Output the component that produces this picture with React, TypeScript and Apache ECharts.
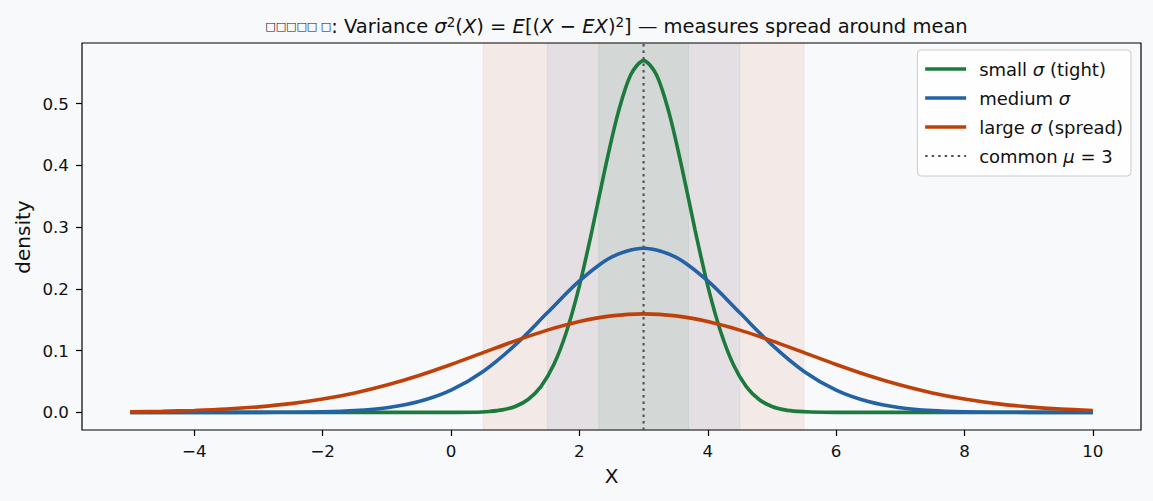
import React, { useEffect, useRef } from "react";
import * as echarts from "echarts";

const MU = 3;
const SIGMAS = [0.7, 1.5, 2.5];
const SERIES_NAMES = ["small σ (tight)", "medium σ", "large σ (spread)"];
const LEGEND_LABELS = ["small {i|σ} (tight)", "medium {i|σ}", "large {i|σ} (spread)", "common {i|μ} = 3"];
const COLORS = ["#1b7a3c", "#2462a6", "#c0400a"];
const MU_NAME = "common μ = 3";

const xSmall = [-5, -2, 0, 0.4, 0.6, 0.8, 1.0, 1.2, 1.4, 1.6, 1.8, 2.0, 2.2, 2.4, 2.6, 2.8, 3.0, 3.2, 3.4, 3.6, 3.8, 4.0, 4.2, 4.4, 4.6, 4.8, 5.0, 5.2, 5.4, 5.6, 6, 8, 10];
const ySmall = [0, 0, 0.0001, 0.0003, 0.0016, 0.0041, 0.0096, 0.0209, 0.0418, 0.0771, 0.131, 0.205, 0.2965, 0.395, 0.484, 0.547, 0.5699, 0.547, 0.484, 0.395, 0.2965, 0.205, 0.131, 0.0771, 0.0418, 0.0209, 0.0096, 0.0041, 0.0016, 0.0006, 0.0001, 0, 0];

const xWide = [-5, -4.5, -4, -3.5, -3, -2.5, -2, -1.5, -1, -0.5, 0, 0.5, 1, 1.5, 2, 2.5, 3, 3.5, 4, 4.5, 5, 5.5, 6, 6.5, 7, 7.5, 8, 8.5, 9, 9.5, 10];
const yMedium = [0, 0, 0, 0, 0.0001, 0.0003, 0.001, 0.003, 0.0076, 0.0175, 0.036, 0.0663, 0.1093, 0.1613, 0.213, 0.2516, 0.266, 0.2516, 0.213, 0.1613, 0.1093, 0.0663, 0.036, 0.0175, 0.0076, 0.003, 0.001, 0.0003, 0.0001, 0, 0];
const yLarge = [0.001, 0.0018, 0.0032, 0.0054, 0.009, 0.0142, 0.0216, 0.0316, 0.0444, 0.0599, 0.0777, 0.0968, 0.1159, 0.1333, 0.1473, 0.1564, 0.1596, 0.1564, 0.1473, 0.1333, 0.1159, 0.0968, 0.0777, 0.0599, 0.0444, 0.0316, 0.0216, 0.0142, 0.009, 0.0054, 0.0032];

const X_TICKS = [-4, -2, 0, 2, 4, 6, 8, 10];
const Y_TICKS = [0, 0.1, 0.2, 0.3, 0.4, 0.5];
const X_MIN = -5.75, X_MAX = 10.75;
const Y_MIN = -0.0285, Y_MAX = 0.5984;

const FONT = "DejaVu Sans";

export default function App() {
  const ref = useRef<HTMLDivElement>(null);
  useEffect(() => {
    document.body.style.margin = "0";
    document.body.style.background = "#f8f9fb";
    const chart = echarts.init(ref.current!, null, { renderer: "svg" });
    const pairs = (xs: number[], ys: number[]) => xs.map((x, i) => [x, ys[i]]);
    const curves = [pairs(xSmall, ySmall), pairs(xWide, yMedium), pairs(xWide, yLarge)];
    const bandOrder = [2, 1, 0];
    const allNames = [...SERIES_NAMES, MU_NAME];
    chart.setOption({
      animation: false,
      backgroundColor: "#f8f9fb",
      title: {
        text: "{t|□□□□□ □}: Variance {i|σ}{sup|2}({i|X}) = {i|E}[({i|X} − {i|EX}){sup|2}] — measures spread around mean",
        left: 611.5,
        textAlign: "center",
        top: 10,
        textStyle: {
          fontFamily: FONT,
          fontSize: 19.5,
          fontWeight: "normal",
          color: "#111",
          rich: {
            t: { fontFamily: FONT, fontSize: 11, color: "#111" },
            i: { fontStyle: "italic", fontFamily: FONT, fontSize: 19.5, color: "#111" },
            sup: { fontFamily: FONT, fontSize: 13.5, color: "#111", verticalAlign: "top", padding: [0, 0, 9, 0] },
          },
        },
      },
      grid: {
        left: 82, right: 12, top: 43, bottom: 71,
        show: true, borderColor: "#000", borderWidth: 1.2, backgroundColor: "transparent",
      },
      legend: {
        orient: "vertical",
        right: 22,
        top: 50,
        data: allNames.map((n, k) => ({ name: n, lineStyle: k < 3 ? { width: 3.6 } : { width: 2.2 } })),
        itemWidth: 41,
        itemHeight: 14,
        itemGap: 11,
        padding: [10, 8, 11, 6],
        backgroundColor: "rgba(255,255,255,0.8)",
        borderColor: "#cccccc",
        borderWidth: 1,
        borderRadius: 4,
        itemStyle: { opacity: 0 },
        textStyle: {
          fontFamily: FONT, fontSize: 18, color: "#111", lineHeight: 18, padding: [0, 0, 0, 8],
          rich: { i: { fontStyle: "italic", fontFamily: FONT, fontSize: 18, color: "#111" } },
        },
        formatter: (name: string) => LEGEND_LABELS[allNames.indexOf(name)],
      },
      xAxis: {
        type: "value",
        min: X_MIN,
        max: X_MAX,
        axisLine: { show: false, onZero: false },
        axisTick: { show: true, inside: false, length: 6, customValues: X_TICKS, lineStyle: { color: "#000", width: 1.2 } },
        axisLabel: {
          customValues: X_TICKS,
          fontFamily: FONT, fontSize: 16.7, color: "#111", margin: 12,
          formatter: (v: number) => String(v).replace("-", "−"),
        },
        splitLine: { show: false },
      },
      yAxis: {
        type: "value",
        min: Y_MIN,
        max: Y_MAX,
        axisLine: { show: false, onZero: false },
        axisTick: { show: true, inside: false, length: 6, customValues: Y_TICKS, lineStyle: { color: "#000", width: 1.2 } },
        axisLabel: {
          customValues: Y_TICKS,
          fontFamily: FONT, fontSize: 16.7, color: "#111", margin: 13,
          formatter: (v: number) => v.toFixed(1),
        },
        splitLine: { show: false },
      },
      graphic: [
        { type: "text", x: 611.5, y: 476, style: { text: "X", font: `20px '${FONT}'`, fill: "#111", textAlign: "center", textVerticalAlign: "middle" } },
        { type: "text", x: 23, y: 237, rotation: Math.PI / 2, style: { text: "density", font: `20px '${FONT}'`, fill: "#111", textAlign: "center", textVerticalAlign: "middle" } },
      ],
      series: [
        {
          name: "bands",
          type: "line",
          data: [],
          z: 1,
          silent: true,
          markArea: {
            silent: true,
            data: bandOrder.map((k) => [
              { xAxis: MU - SIGMAS[k], itemStyle: { color: COLORS[k], opacity: 0.08, borderColor: COLORS[k], borderWidth: 1 } },
              { xAxis: MU + SIGMAS[k] },
            ]),
          },
        },
        ...curves.map((d, k) => ({
          name: SERIES_NAMES[k],
          type: "line",
          data: d,
          smooth: 0.3,
          symbol: "none",
          z: 3,
          lineStyle: { color: COLORS[k], width: 3.6 },
          itemStyle: { color: COLORS[k] },
        })),
        {
          name: MU_NAME,
          type: "line",
          data: [[MU, Y_MIN], [MU, Y_MAX]],
          symbol: "none",
          z: 4,
          lineStyle: { color: "#555", width: 2.2, type: [2.5, 4] },
          itemStyle: { color: "#555" },
        },
      ],
    });
    return () => chart.dispose();
  }, []);
  return <div ref={ref} style={{ width: 1153, height: 501, position: "fixed", left: 0, top: 0 }} />;
}
